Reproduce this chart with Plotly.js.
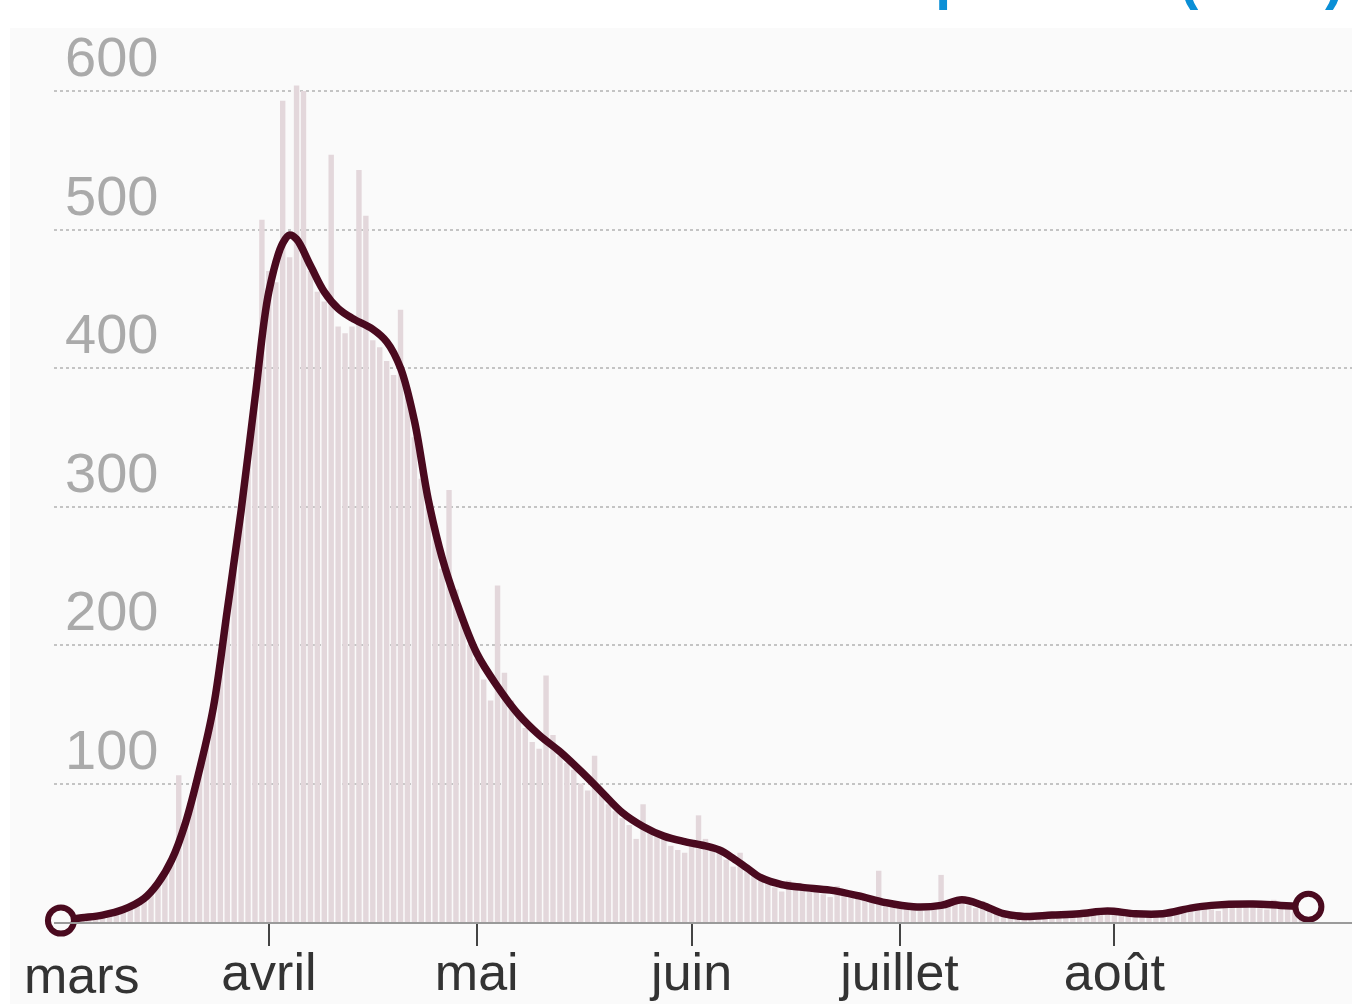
<!DOCTYPE html>
<html>
<head>
<meta charset="utf-8">
<script src="https://cdn.plot.ly/plotly-3.0.1.min.js"></script>
<style>html,body{margin:0;padding:0;background:#fff;}#chart{width:1352px;height:1004px;}</style>
</head>
<body>
<div id="chart"></div>
<script>
// Daily values (bars), one array per month, 2020
const marsStart = '2020-03-02';
const marsVals    = [0,1,1,2,3,4,5,5,7,9,11,14,17,22,28,35,45,106,72,90,112,130,158,190,225,262,300,338,380,507];
const avrilVals   = [470,462,593,480,604,600,470,455,448,554,430,425,430,543,510,420,415,405,395,442,380,350,320,300,280,255,312,240,215,200];
const maiVals     = [190,175,160,243,180,160,150,140,130,125,178,135,120,115,110,100,95,120,95,85,80,75,70,60,85,68,62,60,55,52,50];
const juinVals    = [55,77,60,52,50,45,40,50,40,35,30,28,25,22,30,27,24,22,24,20,18,26,22,20,18,16,14,37,16,13];
const juilletVals = [14,12,10,8,9,12,34,14,15,18,12,10,15,8,6,6,5,3,3,5,4,6,5,4,3,5,7,8,6,7,9];
const aoutVals    = [7,5,9,6,7,5,6,4,5,10,9,11,12,10,9,8,15,14,12,13,11,10,9,16,14,13,12,11,10];

// Smoothed curve
const lineDates = ['2020-03-02','2020-03-05','2020-03-08','2020-03-11','2020-03-14','2020-03-16','2020-03-18','2020-03-20','2020-03-22','2020-03-24','2020-03-26','2020-03-28','2020-03-30','2020-04-01','2020-04-03','2020-04-04','2020-04-05','2020-04-07','2020-04-09','2020-04-11','2020-04-13','2020-04-16','2020-04-18','2020-04-20','2020-04-22','2020-04-24','2020-04-26','2020-04-28','2020-05-01','2020-05-04','2020-05-07','2020-05-10','2020-05-13','2020-05-16','2020-05-19','2020-05-22','2020-05-25','2020-05-28','2020-05-31','2020-06-03','2020-06-05','2020-06-07','2020-06-09','2020-06-11','2020-06-14','2020-06-17','2020-06-21','2020-06-25','2020-06-29','2020-07-03','2020-07-07','2020-07-10','2020-07-13','2020-07-16','2020-07-19','2020-07-23','2020-07-27','2020-07-31','2020-08-04','2020-08-08','2020-08-12','2020-08-15','2020-08-21','2020-08-25','2020-08-29'];
const lineVals  = [1,3,5,9,17,28,45,72,110,155,225,297,378,455,490,496,493,474,455,443,436,428,419,400,362,305,263,232,194,170,150,135,123,109,94,79,69,62,58,55,52,46,39,32,27,25,23,19,14,11,12,16,12,6,4,5,6,8,6,6,10,12,13,12,11];

// Axis labels
const tickDates = ['2020-03-02','2020-04-01','2020-05-01','2020-06-01','2020-07-01','2020-08-01'];
const tickLabels = ['','avril','mai','juin','juillet','août'];
const marsLabel = 'mars';
const yTicks = [100,200,300,400,500,600];
const titleText = 'hospitalisés (2020)';

// build daily dates
const allVals = [].concat(marsVals, avrilVals, maiVals, juinVals, juilletVals, aoutVals);
const barDates = [];
const d0 = new Date(marsStart + 'T00:00:00Z');
for (let i = 0; i < allVals.length; i++) {
  const d = new Date(d0.getTime() + i * 86400000);
  barDates.push(d.toISOString().slice(0,10));
}

const lineColor = '#4a0a1f';
const traces = [
  {type:'bar', x:barDates, y:allVals, marker:{color:'#e3d7db', line:{width:0}}, hoverinfo:'x+y'},
  {type:'scatter', mode:'lines', x:lineDates, y:lineVals, line:{color:lineColor, width:7.5, shape:'spline', smoothing:1}, cliponaxis:false},
  {type:'scatter', mode:'markers', x:[lineDates[0], lineDates[lineDates.length-1]], y:[lineVals[0], lineVals[lineVals.length-1]],
   marker:{size:26, color:'#fafafa', line:{color:lineColor, width:6}}, cliponaxis:false}
];

const W = 1352, H = 1004, ML = 54, MT = 0, MB = 82;
const ph = H - MT - MB, pw = W - ML;
const layout = {
  width: W, height: H,
  margin: {l: ML, r: 0, t: MT, b: MB, pad: 0},
  paper_bgcolor: '#ffffff',
  plot_bgcolor: 'rgba(0,0,0,0)',
  showlegend: false,
  bargap: 0.22,
  font: {family: 'Liberation Sans, Arial, sans-serif'},
  xaxis: {
    type: 'date',
    range: ['2020-03-01', '2020-09-04 07:00'],
    tickvals: tickDates, ticktext: tickLabels,
    ticks: 'outside', ticklen: 22, tickwidth: 2, tickcolor: '#444',
    ticklabelstandoff: -18,
    showline: true, linecolor: '#9a9a9a', linewidth: 2,
    showgrid: false, zeroline: false,
    tickfont: {size: 52, color: '#333', family: 'Liberation Sans, Arial, sans-serif'},
    fixedrange: true
  },
  yaxis: {
    range: [0, 665.7],
    tickvals: yTicks,
    ticklabelposition: 'inside top',
    ticklabelstandoff: 8,
    ticklabelshift: 5,
    showgrid: true, gridcolor: '#c4c4c4', gridwidth: 2, griddash: 'dot',
    zeroline: false, showline: false, ticks: '',
    tickfont: {size: 56, color: '#aaaaaa', family: 'Liberation Sans, Arial, sans-serif'},
    fixedrange: true
  },
  shapes: [
    {type:'rect', xref:'paper', yref:'paper', layer:'below',
     x0:(10-ML)/pw, x1:1, y0:-MB/ph, y1:(ph-28)/ph, fillcolor:'#fafafa', line:{width:0}}
  ],
  annotations: [
    {xref:'x', yref:'paper', x:'2020-03-05', y:0, yanchor:'top', xanchor:'center', yshift:-22,
     text: marsLabel, showarrow:false, font:{size:52, color:'#333', family:'Liberation Sans, Arial, sans-serif'}},
    {xref:'paper', yref:'paper', x:1, y:1, xanchor:'right', yanchor:'bottom', yshift:-12, xshift:-6,
     text: titleText, showarrow:false, font:{size:57, color:'#0a8fd6', family:'Liberation Sans, Arial, sans-serif', weight:'bold'}}
  ]
};

Plotly.newPlot('chart', traces, layout, {displayModeBar:false, staticPlot:true});
</script>
</body>
</html>
